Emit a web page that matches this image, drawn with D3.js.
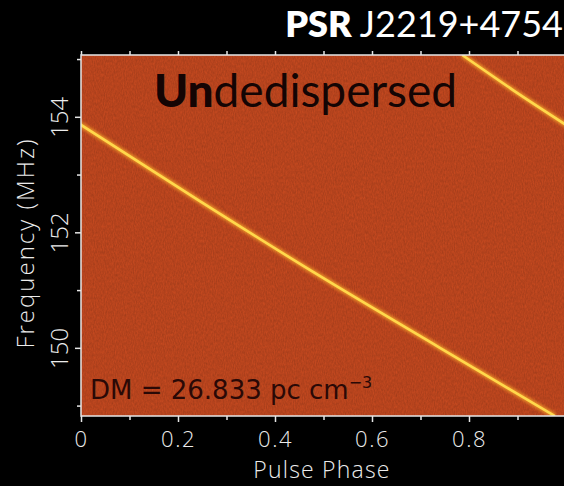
<!DOCTYPE html>
<html>
<head>
<meta charset="utf-8">
<script src="https://cdn.jsdelivr.net/npm/d3@7"></script>
<style>
  html, body { margin: 0; padding: 0; background: #000; }
  svg { display: block; }
</style>
</head>
<body>
<script>
var svgWidth = 564;
var svgHeight = 486;

// pulse sweep: phase vs frequency (MHz)
var sweepFreq  = [155.07, 154.45, 153.86, 152.54, 151.24, 150.00, 148.82];
var sweepPhase = [-0.214, -0.107, 0.000, 0.245, 0.493, 0.740, 0.977];
// the profile wraps once in phase
var wrapOffsets = [0, 1];

var xMajor = [0, 0.2, 0.4, 0.6, 0.8];
var xMinor = [0.1, 0.3, 0.5, 0.7, 0.9];
var yMajor = [150, 152, 154];
var yMinor = [149, 151, 153, 155];

var titleBold = 'PSR';
var titleRest = ' J2219+4754';
var xTitle = 'Pulse Phase';
var yTitle = 'Frequency  (MHz)';

var plot = {left: 81, right: 566, top: 55, bottom: 416};

var x = d3.scaleLinear().domain([0, 1]).range([plot.left, plot.right]);
var y = d3.scaleLinear().domain([148.82, 155.07]).range([plot.bottom, plot.top]);

var svg = d3.select('body').append('svg')
	.attr('width', svgWidth)
	.attr('height', svgHeight);

svg.append('rect')
	.attr('width', svgWidth)
	.attr('height', svgHeight)
	.attr('fill', '#000');

var defs = svg.append('defs');
defs.append('clipPath').attr('id', 'plotclip')
	.append('rect')
	.attr('x', plot.left).attr('y', plot.top)
	.attr('width', plot.right - plot.left).attr('height', plot.bottom - plot.top);

// grainy look of the waterfall
var grain = defs.append('filter').attr('id', 'grain')
	.attr('x', 0).attr('y', 0).attr('width', 1).attr('height', 1);
grain.append('feTurbulence')
	.attr('type', 'fractalNoise')
	.attr('baseFrequency', '0.9 0.35')
	.attr('numOctaves', 2)
	.attr('seed', 3);
grain.append('feColorMatrix')
	.attr('values', '0 0 0 0 0  0 0 0 0 0  0 0 0 0 0  0 0 0 0.22 -0.02');
grain.append('feComposite').attr('in2', 'SourceGraphic').attr('operator', 'in');

var glow = defs.append('filter').attr('id', 'glow');
glow.append('feGaussianBlur').attr('stdDeviation', 1.5);

var inner = svg.append('g').attr('clip-path', 'url(#plotclip)');

inner.append('rect')
	.attr('x', plot.left).attr('y', plot.top)
	.attr('width', plot.right - plot.left).attr('height', plot.bottom - plot.top)
	.attr('fill', '#c84a20');

inner.append('rect')
	.attr('x', plot.left).attr('y', plot.top)
	.attr('width', plot.right - plot.left).attr('height', plot.bottom - plot.top)
	.attr('fill', '#000')
	.attr('filter', 'url(#grain)');

var sweep = sweepFreq.map(function (f, i) { return [sweepPhase[i], f]; });

function sweepLine(offset) {
	return d3.line()
		.x(function (d) { return x(d[0] + offset); })
		.y(function (d) { return y(d[1]); })
		.curve(d3.curveMonotoneX)(sweep);
}

inner.selectAll('path.halo')
	.data(wrapOffsets)
	.enter()
	.append('path')
	.attr('class', 'halo')
	.attr('d', sweepLine)
	.attr('fill', 'none')
	.attr('stroke', '#f5a02c')
	.attr('stroke-width', 5.5)
	.attr('opacity', 0.8)
	.attr('filter', 'url(#glow)');

inner.selectAll('path.core')
	.data(wrapOffsets)
	.enter()
	.append('path')
	.attr('class', 'core')
	.attr('d', sweepLine)
	.attr('fill', 'none')
	.attr('stroke', '#ffd84c')
	.attr('stroke-width', 2.6);

// frame
var frameColor = '#e6e6e6';
svg.append('path')
	.attr('d', 'M' + plot.right + ',' + plot.top + 'H' + plot.left + 'V' + plot.bottom + 'H' + plot.right)
	.attr('fill', 'none')
	.attr('stroke', frameColor)
	.attr('stroke-width', 1.5);

var tickFont = "'Open Sans', 'DejaVu Sans', sans-serif";

function styleAxis(g) {
	g.select('.domain').remove();
	g.selectAll('line').attr('stroke', frameColor).attr('stroke-width', 1.5);
	g.selectAll('text').attr('fill', '#ececec')
		.attr('font-family', tickFont)
		.attr('font-weight', 300);
}

// bottom axis
svg.append('g')
	.attr('transform', 'translate(0,' + plot.bottom + ')')
	.call(d3.axisBottom(x).tickValues(xMinor).tickSize(4).tickFormat(''))
	.call(styleAxis);
svg.append('g')
	.attr('transform', 'translate(0,' + plot.bottom + ')')
	.call(d3.axisBottom(x).tickValues(xMajor).tickSize(6)
		.tickFormat(function (d) { return d === 0 ? '0' : d3.format('.1f')(d); }))
	.call(styleAxis)
	.selectAll('text')
	.attr('font-size', 22)
	.attr('letter-spacing', 1.5)
	.attr('dy', 0)
	.attr('y', 31);

// top axis
svg.append('g')
	.attr('transform', 'translate(0,' + plot.top + ')')
	.call(d3.axisTop(x).tickValues(xMajor.concat(xMinor)).tickSize(4).tickFormat(''))
	.call(styleAxis);

// left axis
svg.append('g')
	.attr('transform', 'translate(' + plot.left + ',0)')
	.call(d3.axisLeft(y).tickValues(yMinor).tickSize(4).tickFormat(''))
	.call(styleAxis);
svg.append('g')
	.attr('transform', 'translate(' + plot.left + ',0)')
	.call(d3.axisLeft(y).tickValues(yMajor).tickSize(6).tickFormat(d3.format('d')))
	.call(styleAxis)
	.selectAll('text')
	.attr('font-size', 24)
	.attr('text-anchor', 'middle')
	.attr('transform', 'rotate(-90)')
	.attr('x', 0)
	.attr('dy', 0)
	.attr('y', -13);

// axis titles
svg.append('text')
	.attr('x', 322)
	.attr('y', 478)
	.attr('text-anchor', 'middle')
	.attr('font-family', tickFont)
	.attr('font-weight', 300)
	.attr('font-size', 23)
	.attr('letter-spacing', 1.2)
	.attr('fill', '#ececec')
	.text(xTitle);

svg.append('text')
	.attr('transform', 'translate(34,243) rotate(-90)')
	.attr('text-anchor', 'middle')
	.attr('font-family', tickFont)
	.attr('font-weight', 300)
	.attr('font-size', 24)
	.attr('letter-spacing', 2)
	.attr('fill', '#ececec')
	.text(yTitle);

// title
var title = svg.append('text')
	.attr('x', 563)
	.attr('y', 37)
	.attr('text-anchor', 'end')
	.attr('font-family', "Lato, 'Open Sans', sans-serif")
	.attr('font-size', 36)
	.attr('fill', '#fff');
title.append('tspan').attr('font-weight', 800).text(titleBold);
title.append('tspan').attr('font-weight', 400).text(titleRest);

// panel label
var panel = svg.append('text')
	.attr('x', 154)
	.attr('y', 107)
	.attr('font-family', "Lato, 'Open Sans', sans-serif")
	.attr('font-size', 46)
	.attr('fill', '#140504');
panel.append('tspan').attr('font-weight', 900).text('Un');
panel.append('tspan').attr('font-weight', 400).text('dedispersed');

// DM label
var dm = svg.append('text')
	.attr('x', 90)
	.attr('y', 399)
	.attr('font-family', "'DejaVu Sans', sans-serif")
	.attr('font-size', 26)
	.attr('fill', '#2a0906');
dm.append('tspan').text('DM = 26.833 pc cm');
dm.append('tspan').attr('font-size', 16).attr('dy', -11).text('\u22123');
</script>
</body>
</html>
